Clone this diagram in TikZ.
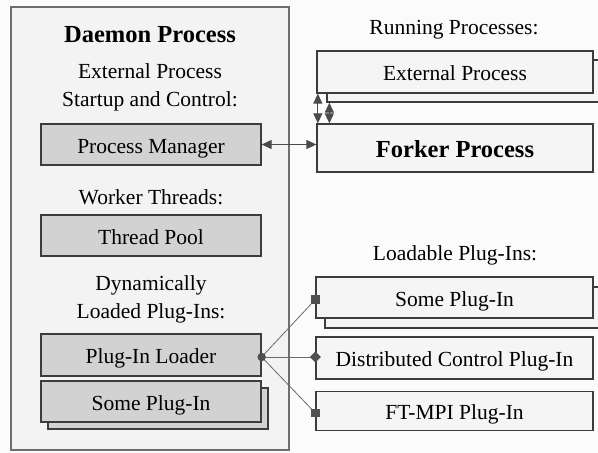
\documentclass[tikz,border=0pt]{standalone}
\usepackage{fontspec}
\setmainfont{Liberation Serif}
\usetikzlibrary{arrows.meta,shapes.geometric}

\definecolor{pagebg}{HTML}{FBFBFB}
\definecolor{daemonfill}{HTML}{F3F3F3}
\definecolor{daemonline}{HTML}{6E6E6E}
\definecolor{innerfill}{HTML}{D2D2D2}
\definecolor{boxline}{HTML}{3C3C3C}
\definecolor{outerfill}{HTML}{F5F5F5}
\definecolor{arrowgray}{HTML}{4A4A4A}
\definecolor{wiregray}{HTML}{6A6A6A}
\definecolor{markgray}{HTML}{505050}

\tikzset{
  txt/.style={font=\fontsize{21.5}{28}\selectfont, text=black, inner sep=0pt, align=center},
  boldtxt/.style={font=\fontsize{24.5}{30}\selectfont\bfseries, text=black, inner sep=0pt},
  innerbox/.style={draw=boxline, line width=1.3pt, fill=innerfill, inner sep=0pt,
    minimum width=220pt, minimum height=41pt, text height=17.5pt, text depth=0pt,
    font=\fontsize{21.5}{26}\selectfont, text=black},
  outerbox/.style={draw=boxline, line width=1.3pt, fill=outerfill, inner sep=0pt,
    minimum width=277pt, minimum height=41pt, text height=17.5pt, text depth=0pt,
    font=\fontsize{21.5}{26}\selectfont, text=black},
  biarrow/.style={draw=arrowgray, line width=1.2pt,
    {Triangle[length=10pt,width=9pt]}-{Triangle[length=10pt,width=9pt]}},
  wire/.style={draw=wiregray, line width=0.8pt},
  sqmark/.style={rectangle, fill=markgray, inner sep=0pt, minimum size=8.5pt},
  dotmark/.style={circle, fill=markgray, inner sep=0pt, minimum size=8.5pt},
  diamark/.style={diamond, fill=markgray, inner sep=0pt, minimum size=11pt},
}

\begin{document}
\begin{tikzpicture}[x=1pt,y=-1pt]
  \useasboundingbox (0,0) rectangle (598,453);
  \clip (0,0) rectangle (598,453);
  \fill[pagebg] (0,0) rectangle (598,453);

  % daemon container
  \draw[daemonline, line width=1.3pt, fill=daemonfill] (11,7) rectangle (289,450);
  \node[boldtxt] (dtitle) at (150,35) {Daemon Process};
  \node[txt] (extlbl) at (150,87) {External Process\\Startup and Control:};
  \node[innerbox] (pm) at (151,144.5) {Process Manager};
  \node[txt] (wtlbl) at (151,197) {Worker Threads:};
  \node[innerbox] (tp) at (151,235.5) {Thread Pool};
  \node[txt] (dynlbl) at (151,299) {Dynamically\\Loaded Plug-Ins:};
  \node[innerbox, minimum height=42pt] (pl) at (151,355) {Plug-In Loader};
  \node[innerbox] (lspsh) at (158,408.5) {};
  \node[innerbox] (lsp) at (151,401.5) {Some Plug-In};

  % running processes
  \node[txt] (runlbl) at (454,30) {Running Processes:};
  \node[outerbox, minimum width=276pt, minimum height=42pt] (extsh) at (465,81) {};
  \node[outerbox, minimum width=276pt, minimum height=42pt] (ext) at (455,72) {External Process};
  \node[outerbox, minimum width=276pt, minimum height=48pt, text height=19pt,
        font=\fontsize{24.5}{30}\selectfont\bfseries] (fork) at (455,148) {Forker Process};

  % loadable plug-ins
  \node[txt] (loadlbl) at (455,255) {Loadable Plug-Ins:};
  \node[outerbox] (rspsh) at (463.5,307.5) {};
  \node[outerbox] (rsp) at (454.5,297.5) {Some Plug-In};
  \node[outerbox, minimum height=42pt] (dcp) at (454.5,358) {Distributed Control Plug-In};
  \node[outerbox, minimum height=39pt] (ftp) at (454.5,411) {FT-MPI Plug-In};

  % process control arrows
  \draw[biarrow] (pm.east) -- (pm.east -| fork.west);
  \draw[biarrow] ([xshift=1.5pt]ext.south west) -- ([xshift=1.5pt]ext.south west |- fork.north);
  \draw[biarrow] ([xshift=3pt]extsh.south west) -- ([xshift=3pt]extsh.south west |- fork.north);

  % plug-in loader wiring
  \coordinate (hubpt) at ([yshift=-2pt]pl.east);
  \coordinate (sppt) at ([yshift=-2pt]rsp.west);
  \coordinate (dcpt) at (hubpt -| dcp.west);
  \coordinate (ftpt) at ([yshift=-2pt]ftp.west);
  \draw[wire] (hubpt) -- (sppt);
  \draw[wire, line width=1pt] (hubpt) -- (dcpt);
  \draw[wire] (hubpt) -- (ftpt);
  \node[dotmark] (hub) at (hubpt) {};
  \node[sqmark] (spmark) at (sppt) {};
  \node[diamark] (dcmark) at (dcpt) {};
  \node[sqmark] (ftmark) at (ftpt) {};
\end{tikzpicture}
\end{document}
